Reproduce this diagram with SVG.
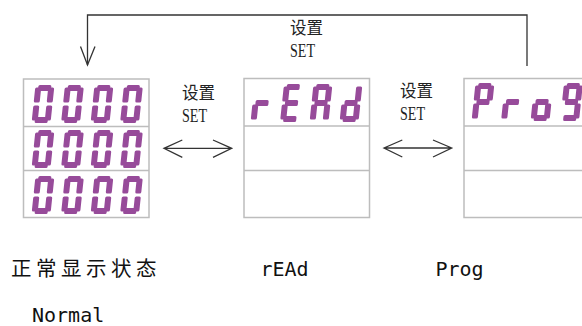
<svg xmlns="http://www.w3.org/2000/svg" xmlns:xlink="http://www.w3.org/1999/xlink" width="582" height="326" viewBox="0 0 582 326">
<style>
.box{fill:#fff;stroke:#bdbdbd;stroke-width:1.5}
.div{stroke:#bdbdbd;stroke-width:1.5}
.seg{fill:#974b9a}
.wire{fill:none;stroke:#333;stroke-width:1.3}
.cn{font-family:"Noto Sans CJK SC",sans-serif;font-size:16.5px;fill:#222}
.en{font-family:"Liberation Serif",serif;font-size:19px;fill:#222}
.cap{font-family:"Noto Sans CJK SC",sans-serif;font-size:20.5px;fill:#111;letter-spacing:4.5px}
.mono{font-family:"DejaVu Sans Mono",monospace;font-size:20px;fill:#111}
</style>
<defs>
<rect id="h" class="seg" width="13" height="6" rx="1.5"/>
<rect id="v" class="seg" width="6" height="15" rx="1.5"/>
<g id="sa"><use href="#h" x="3" y="0"/></g>
<g id="sb"><use href="#v" x="13" y="2.5"/></g>
<g id="sc"><use href="#v" x="13" y="20.5"/></g>
<g id="sd"><use href="#h" x="3" y="32"/></g>
<g id="se"><use href="#v" x="0" y="20.5"/></g>
<g id="sf"><use href="#v" x="0" y="2.5"/></g>
<g id="sg"><use href="#h" x="3" y="16"/></g>
<g id="d0"><use href="#sa"/><use href="#sb"/><use href="#sc"/><use href="#sd"/><use href="#se"/><use href="#sf"/></g>
<g id="dr"><use href="#se"/><use href="#sg"/></g>
<g id="dE"><use href="#sa"/><use href="#sd"/><use href="#se"/><use href="#sf"/><use href="#sg"/></g>
<g id="dA"><use href="#sa"/><use href="#sb"/><use href="#sc"/><use href="#se"/><use href="#sf"/><use href="#sg"/></g>
<g id="dd"><use href="#sb"/><use href="#sc"/><use href="#sd"/><use href="#se"/><use href="#sg"/></g>
<g id="dP"><use href="#sa"/><use href="#sb"/><use href="#se"/><use href="#sf"/><use href="#sg"/></g>
<g id="do"><use href="#sc"/><use href="#sd"/><use href="#se"/><use href="#sg"/></g>
<g id="d9"><use href="#sa"/><use href="#sb"/><use href="#sc"/><use href="#sd"/><use href="#sf"/><use href="#sg"/></g>
</defs>
<rect width="582" height="326" fill="#fff"/>

<g id="connectors">
<path class="wire" d="M527,66 V15 H87.5 V65"/>
<path class="wire" d="M80.5,46.5 L87.5,65 L95,46.5"/>
<path class="wire" d="M164,148.3 H231.7 M182.3,140 L164,148.3 L182.3,157.3 M213,140 L231.7,148.3 L213,157.3"/>
<path class="wire" d="M384,148 H451.7 M402.3,140 L384,148 L402.3,157 M433,140 L451.7,148 L433,157"/>
<text class="cn" x="290" y="34">设置</text>
<text class="en" x="290" y="57" textLength="25" lengthAdjust="spacingAndGlyphs">SET</text>
<text class="cn" x="182" y="98.5">设置</text>
<text class="en" x="182" y="122" textLength="25" lengthAdjust="spacingAndGlyphs">SET</text>
<text class="cn" x="400" y="97">设置</text>
<text class="en" x="400" y="119.5" textLength="25" lengthAdjust="spacingAndGlyphs">SET</text>
</g>

<g id="normal">
<rect class="box" x="23.5" y="79" width="125.5" height="138.5"/>
<line class="div" x1="23.5" y1="126.5" x2="149" y2="126.5"/>
<line class="div" x1="23.5" y1="170.5" x2="149" y2="170.5"/>
<g transform="translate(35.5,85) skewX(-6)"><use href="#d0"/></g>
<g transform="translate(65,85) skewX(-6)"><use href="#d0"/></g>
<g transform="translate(94.5,85) skewX(-6)"><use href="#d0"/></g>
<g transform="translate(124,85) skewX(-6)"><use href="#d0"/></g>
<g transform="translate(35.5,130) skewX(-6)"><use href="#d0"/></g>
<g transform="translate(65,130) skewX(-6)"><use href="#d0"/></g>
<g transform="translate(94.5,130) skewX(-6)"><use href="#d0"/></g>
<g transform="translate(124,130) skewX(-6)"><use href="#d0"/></g>
<g transform="translate(35.5,176) skewX(-6)"><use href="#d0"/></g>
<g transform="translate(65,176) skewX(-6)"><use href="#d0"/></g>
<g transform="translate(94.5,176) skewX(-6)"><use href="#d0"/></g>
<g transform="translate(124,176) skewX(-6)"><use href="#d0"/></g>
<text class="cap" x="11" y="276">正常显示状态</text>
<text class="mono" x="32" y="322">Normal</text>
</g>

<g id="read">
<rect class="box" x="244" y="78.5" width="125.5" height="139"/>
<line class="div" x1="244" y1="126" x2="369.5" y2="126"/>
<line class="div" x1="244" y1="170.5" x2="369.5" y2="170.5"/>
<g transform="translate(254.5,84) skewX(-6)"><use href="#dr"/></g>
<g transform="translate(284,84) skewX(-6)"><use href="#dE"/></g>
<g transform="translate(313.5,84) skewX(-6)"><use href="#dA"/></g>
<g transform="translate(343.5,84) skewX(-6)"><use href="#dd"/></g>
<text class="mono" x="260.5" y="276">rEAd</text>
</g>

<g id="prog">
<rect class="box" x="464" y="78.5" width="130" height="139"/>
<line class="div" x1="464" y1="126" x2="594" y2="126"/>
<line class="div" x1="464" y1="170.5" x2="594" y2="170.5"/>
<g transform="translate(475.5,83) skewX(-6)"><use href="#dP"/></g>
<g transform="translate(505,83) skewX(-6)"><use href="#dr"/></g>
<g transform="translate(534.5,83) skewX(-6)"><use href="#do"/></g>
<g transform="translate(564,83) skewX(-6)"><use href="#d9"/></g>
<text class="mono" x="435.5" y="276">Prog</text>
</g>
</svg>
